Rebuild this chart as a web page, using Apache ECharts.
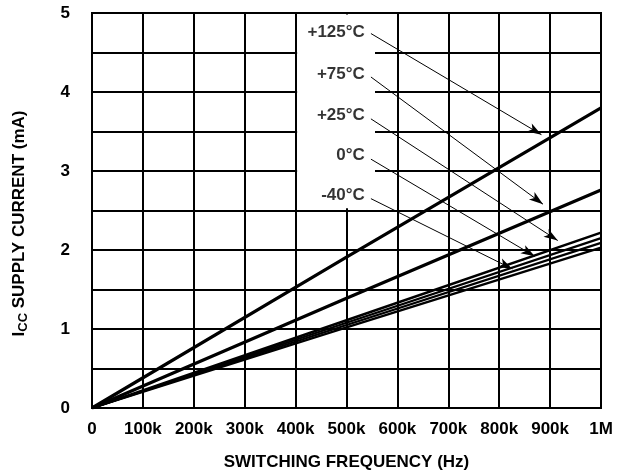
<!DOCTYPE html>
<html>
<head>
<meta charset="utf-8">
<script src="https://cdn.jsdelivr.net/npm/echarts@6/dist/echarts.min.js"></script>
<style>html,body{margin:0;padding:0;background:#fff}#c{width:626px;height:476px}</style>
</head>
<body>
<div id="c"></div>
<script>
// ---- data ----
var freqHz = [0, 500000, 1000000];
var icc125 = [0, 1.91, 3.80];
var icc75 = [0, 1.39, 2.76];
var icc25 = [0, 1.11, 2.22];
var icc0 = [0, 1.08, 2.15];
var iccM40a = [0, 1.05, 2.09];
var iccM40b = [0, 1.02, 2.03];
var xTickLabels = ['0', '100k', '200k', '300k', '400k', '500k', '600k', '700k', '800k', '900k', '1M'];
var yTickLabels = ['0', '1', '2', '3', '4', '5'];
var tempLabels = ['+125°C', '+75°C', '+25°C', '0°C', '-40°C'];
var labelX = [536000, 536000, 536000, 536000, 536000];
var labelY = [4.75, 4.23, 3.71, 3.20, 2.69];
var arrowStartX = [548000, 548000, 548000, 548000, 548000];
var arrowStartY = [4.74, 4.19, 3.66, 3.15, 2.65];
var arrowEndX = [883000, 886000, 915000, 870000, 826000];
var arrowEndY = [3.46, 2.58, 2.12, 1.92, 1.76];

function pairs(xs, ys) { return xs.map(function (x, i) { return [x, ys[i]]; }); }

var font = 'Liberation Sans, Arial, sans-serif';
var fs = 17;
var chart = echarts.init(document.getElementById('c'), null, { renderer: 'canvas' });

function lineSeries(name, vals, w) {
  return {
    name: name, type: 'line', data: pairs(freqHz, vals), showSymbol: false,
    lineStyle: { color: '#000', width: w }, z: 3, animation: false, silent: true
  };
}

var series = [
  lineSeries('+125°C', icc125, 3.2),
  lineSeries('+75°C', icc75, 3.2),
  lineSeries('+25°C', icc25, 2.6),
  lineSeries('0°C', icc0, 2.2),
  lineSeries('-40°C', iccM40a, 2.2),
  lineSeries('-40°C b', iccM40b, 2.2)
];
series[0].markArea = {
  silent: true, itemStyle: { color: '#fff' },
  data: [[{ coord: [403000, 2.53] }, { coord: [556000, 4.98] }]]
};
series.push({
  name: 'labels', type: 'scatter', z: 5, animation: false, silent: true,
  symbolSize: 0,
  data: labelX.map(function (x, i) { return { value: [x, labelY[i]], name: tempLabels[i] }; }),
  label: {
    show: true, position: 'left', distance: 0, formatter: '{b}',
    color: '#000', fontFamily: font, fontWeight: 'bold', fontSize: fs
  },
  markLine: {
    silent: true, animation: false,
    symbol: ['none', 'arrow'], symbolSize: [7, 14],
    lineStyle: { color: '#000', width: 1, type: 'solid' },
    label: { show: false },
    data: arrowStartX.map(function (x, i) {
      return [{ coord: [x, arrowStartY[i]] }, { coord: [arrowEndX[i], arrowEndY[i]] }];
    })
  }
});

chart.setOption({
  backgroundColor: '#fff',
  animation: false,
  grid: { left: 92, right: 25, top: 13, bottom: 67, show: true, borderColor: '#000', borderWidth: 2, backgroundColor: 'transparent' },
  xAxis: {
    type: 'value', min: 0, max: 1000000, interval: 100000,
    name: 'SWITCHING FREQUENCY (Hz)', nameLocation: 'middle', nameGap: 46,
    nameTextStyle: { color: '#000', fontFamily: font, fontWeight: 'bold', fontSize: fs },
    axisLine: { show: true, lineStyle: { color: '#000', width: 2 } },
    axisTick: { show: false },
    axisLabel: {
      color: '#000', fontFamily: font, fontWeight: 'bold', fontSize: fs, margin: 13,
      formatter: function (v) { return xTickLabels[Math.round(v / 100000)]; }
    },
    splitLine: { show: true, lineStyle: { color: '#000', width: 2 } }
  },
  yAxis: {
    type: 'value', min: 0, max: 5, interval: 0.5,
    name: '{m|I}{s|CC}{e| SUPPLY CURRENT (mA)}', nameLocation: 'middle', nameGap: 62, nameRotate: 90,
    nameTextStyle: {
      color: '#000', fontFamily: font, fontWeight: 'bold', fontSize: fs,
      rich: {
        m: { color: '#000', fontFamily: font, fontWeight: 'bold', fontSize: fs },
        s: { color: '#000', fontFamily: font, fontWeight: 'bold', fontSize: 13, padding: [8, 0, 0, 0] },
        e: { color: '#000', fontFamily: font, fontWeight: 'bold', fontSize: fs, padding: [0, 26, 0, 0] }
      }
    },
    axisLine: { show: true, lineStyle: { color: '#000', width: 2 } },
    axisTick: { show: false },
    axisLabel: {
      color: '#000', fontFamily: font, fontWeight: 'bold', fontSize: fs, margin: 22,
      formatter: function (v) {
        var r = Math.round(v);
        return Math.abs(v - r) < 1e-6 ? yTickLabels[r] : '';
      }
    },
    splitLine: { show: true, lineStyle: { color: '#000', width: 2 } }
  },
  series: series
});
</script>
</body>
</html>
